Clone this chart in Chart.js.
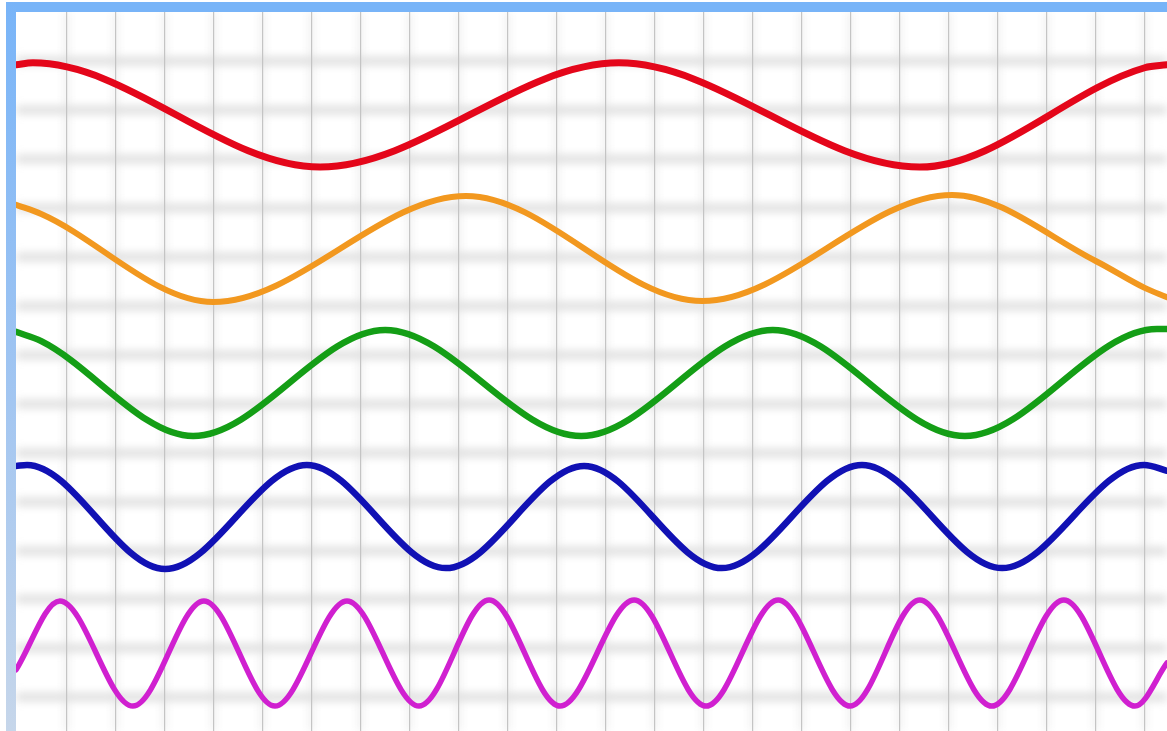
<!DOCTYPE html>
<html>
<head>
<meta charset="utf-8">
<title>Waves</title>
<script src="https://cdn.jsdelivr.net/npm/chart.js@4.4.1/dist/chart.umd.min.js"></script>
<style>
  html, body { margin: 0; padding: 0; background: #fff; }
  body { width: 1167px; height: 731px; position: relative; overflow: hidden; }
  #frameTop { position: absolute; left: 6px; top: 2px; width: 1161px; height: 10px; background: #78b4f8; }
  #frameLeft { position: absolute; left: 6px; top: 2px; width: 10px; height: 729px;
    background: linear-gradient(#78b4f8, #a3c6f1 55%, #c6d6ea); }
  .plot { position: absolute; left: 16px; top: 12px; }
  #gridBack { filter: blur(4px); }
</style>
</head>
<body>
<canvas id="gridBack" class="plot" width="1151" height="719"></canvas>
<canvas id="waveChart" class="plot" width="1151" height="719"></canvas>
<div id="frameTop"></div>
<div id="frameLeft"></div>
<script>
// x is counted in grid columns, y in grid rows from the bottom
var xMin = -0.035, xMax = 23.455;
var yMin = 0.31, yMax = 15.01;
var columnTicks = [1, 2, 3, 4, 5, 6, 7, 8, 9, 10, 11, 12, 13, 14, 15, 16, 17, 18, 19, 20, 21, 22, 23];
var rowTicks = [1, 2, 3, 4, 5, 6, 7, 8, 9, 10, 11, 12, 13, 14];

// Wave values (extremes plus edge readings)
var redX = [-0.035, 0.31, 6.17, 12.27, 18.41, 23.0, 23.455];
var redY = [13.93, 13.97, 11.84, 13.97, 11.84, 13.87, 13.93];

var orangeX = [-0.035, 0.48, 3.99, 9.15, 13.97, 19.07, 22.0, 23.0, 23.455];
var orangeY = [11.07, 10.88, 9.08, 11.25, 9.10, 11.27, 9.92, 9.37, 9.18];

var greenX = [-0.035, 0.48, 3.58, 7.50, 11.50, 15.41, 19.33, 23.25, 23.455];
var greenY = [8.47, 8.28, 6.34, 8.51, 6.34, 8.51, 6.34, 8.53, 8.53];

var blueX = [-0.035, 0.19, 3.01, 5.90, 8.74, 11.56, 14.37, 17.23, 20.09, 22.99, 23.455];
var blueY = [5.73, 5.75, 3.62, 5.75, 3.64, 5.73, 3.64, 5.75, 3.64, 5.75, 5.63];

var magentaX = [-0.035, 0.86, 2.35, 3.80, 5.25, 6.72, 8.19, 9.62, 11.07, 12.58, 14.05, 15.52, 16.99, 18.41, 19.88, 21.35, 22.80, 23.455];
var magentaY = [1.56, 2.97, 0.82, 2.97, 0.82, 2.97, 0.82, 2.99, 0.82, 2.99, 0.82, 2.99, 0.82, 2.99, 0.82, 2.99, 0.82, 1.70];

function toPoints(xs, ys) {
  return xs.map(function(x, i) { return { x: x, y: ys[i] }; });
}

function waveSet(xs, ys, color, width) {
  return {
    data: toPoints(xs, ys),
    borderColor: color,
    borderWidth: width,
    pointRadius: 0,
    fill: false,
    cubicInterpolationMode: 'monotone',
    borderCapStyle: 'round'
  };
}

function buildScales(xGrid, yGrid) {
  return {
    x: {
      type: 'linear', min: xMin, max: xMax,
      afterBuildTicks: function(scale) {
        scale.ticks = columnTicks.map(function(v) { return { value: v }; });
      },
      ticks: { display: false },
      border: { display: false },
      grid: xGrid
    },
    y: {
      type: 'linear', min: yMin, max: yMax,
      afterBuildTicks: function(scale) {
        scale.ticks = rowTicks.map(function(v) { return { value: v }; });
      },
      ticks: { display: false },
      border: { display: false },
      grid: yGrid
    }
  };
}

var baseOptions = {
  responsive: false,
  animation: false,
  devicePixelRatio: 1,
  events: [],
  layout: { padding: 0 },
  plugins: { legend: { display: false }, tooltip: { enabled: false } }
};

// Soft, blurred rules behind everything
new Chart(document.getElementById('gridBack').getContext('2d'), {
  type: 'line',
  data: { datasets: [] },
  options: Object.assign({}, baseOptions, {
    scales: buildScales(
      { color: '#e0e0e0', lineWidth: 3, drawTicks: false },
      { color: '#dedede', lineWidth: 8, drawTicks: false }
    )
  })
});

// Sharp vertical rules and the five waves
new Chart(document.getElementById('waveChart').getContext('2d'), {
  type: 'line',
  data: {
    datasets: [
      waveSet(redX, redY, '#e4061a', 7),
      waveSet(orangeX, orangeY, '#f2981f', 6),
      waveSet(greenX, greenY, '#149e16', 6.5),
      waveSet(blueX, blueY, '#1111b4', 6.5),
      waveSet(magentaX, magentaY, '#d020d0', 5.5)
    ]
  },
  options: Object.assign({}, baseOptions, {
    scales: buildScales(
      { color: '#c4c4c4', lineWidth: 1.2, drawTicks: false },
      { display: false, drawTicks: false }
    )
  })
});
</script>
</body>
</html>
